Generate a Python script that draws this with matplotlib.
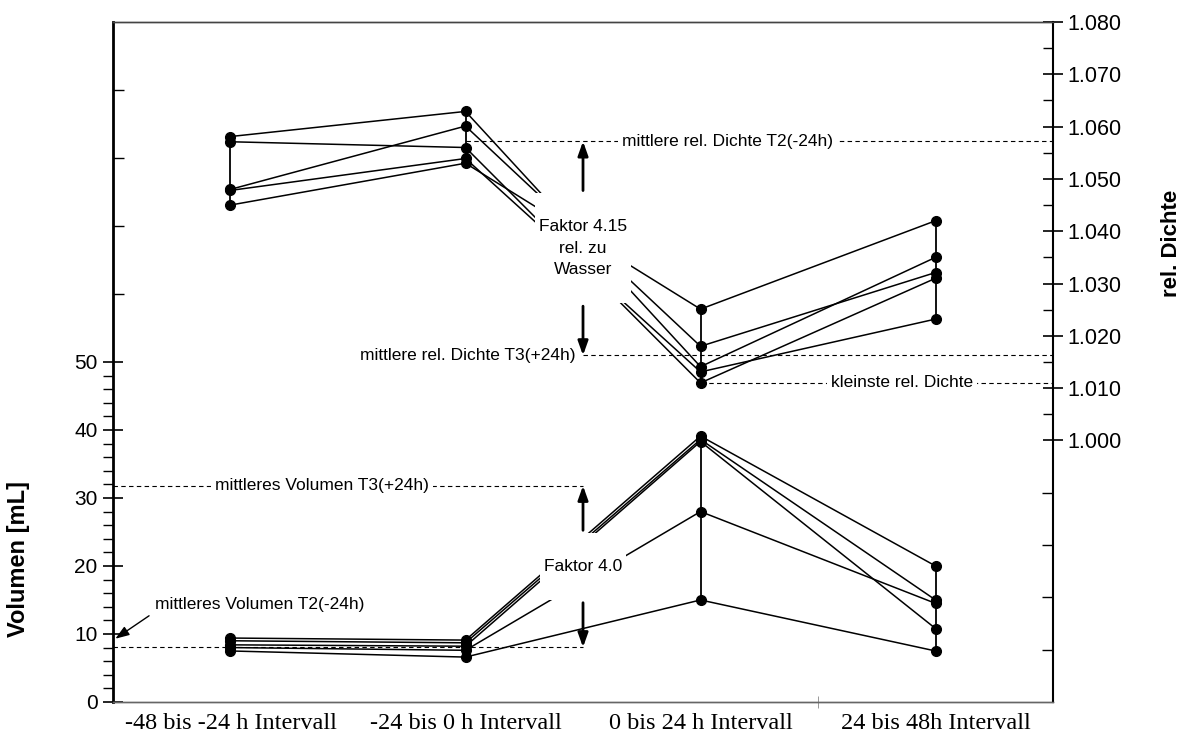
import numpy as np
import matplotlib
matplotlib.use('Agg')
import matplotlib.pyplot as plt

# Intervalle (x-Achse)
interval_labels = ['-48 bis -24 h Intervall', '-24 bis 0 h Intervall',
                   '0 bis 24 h Intervall', '24 bis 48h Intervall']
interval_x = [0.5, 1.5, 2.5, 3.5]

# Volumen [mL] je Proband und Intervall
volumen = [
    [9.4, 9.1, 39.1, 20.0],
    [9.0, 8.7, 38.6, 15.0],
    [8.4, 8.2, 38.3, 10.8],
    [8.0, 7.6, 28.0, 14.5],
    [7.5, 6.6, 15.0, 7.5],
]

# rel. Dichte je Proband und Intervall
dichte = [
    [1.0581, 1.0629, 1.0141, 1.0350],
    [1.0480, 1.0601, 1.0180, 1.0321],
    [1.0571, 1.0560, 1.0110, 1.0310],
    [1.0478, 1.0539, 1.0131, 1.0232],
    [1.0450, 1.0530, 1.0251, 1.0420],
]

vol = np.array(volumen)
dens = np.array(dichte)
vol_t2, vol_t3 = vol[:, 1].mean(), vol[:, 2].mean()
dens_t2, dens_t3 = dens[:, 1].mean(), dens[:, 2].mean()
dens_min = dens.min()

plt.rcParams['font.family'] = 'Liberation Sans'

fig = plt.figure(figsize=(11.88, 7.40), dpi=100)
ax = fig.add_axes([0.0951, 0.0514, 0.7913, 0.9189])
axr = ax.twinx()

note_size = 12.5
line_kw = dict(color='black', lw=1.1, marker='o', ms=7, zorder=2)
dash_kw = dict(colors='black', linestyles=(0, (4, 3)), lw=0.8, zorder=1)
box = dict(boxstyle='square,pad=0.25', fc='white', ec='none')
arrow = dict(arrowstyle='-|>,head_length=0.7,head_width=0.25', color='black',
             lw=2, mutation_scale=12, shrinkB=0)

# Volumen (linke Achse)
for row in volumen:
    ax.plot(interval_x, row, **line_kw)
ax.vlines(interval_x, vol.min(axis=0), vol.max(axis=0), color='black', lw=1.3, zorder=2)

ax.hlines([vol_t2, vol_t3], 0, 2.0, **dash_kw)
ax.text(0.889, vol_t3, 'mittleres Volumen T3(+24h)', ha='center', va='center',
        fontsize=note_size, bbox=box, zorder=3)
ax.annotate('mittleres Volumen T2(-24h)', xy=(0.01, 9.3), xytext=(0.18, 14.4),
            ha='left', va='center', fontsize=note_size,
            arrowprops=dict(arrowstyle='-|>,head_length=0.7,head_width=0.25',
                            color='black', lw=1, mutation_scale=12,
                            relpos=(0, 0), shrinkA=3, shrinkB=0))
vol_mid = (vol_t2 + vol_t3) / 2
for target in (vol_t3, vol_t2):
    ax.annotate('\nFaktor 4.0\n', xy=(2.0, target), xytext=(2.0, vol_mid),
                ha='center', va='center', fontsize=note_size, linespacing=1.55,
                bbox=box, arrowprops=arrow, zorder=3)

# rel. Dichte (rechte Achse)
for row in dichte:
    axr.plot(interval_x, row, **line_kw)
axr.vlines(interval_x, dens.min(axis=0), dens.max(axis=0), color='black', lw=1.3, zorder=2)

axr.hlines(dens_t2, 1.5, 4.0, **dash_kw)
axr.hlines(dens_t3, 2.0, 4.0, **dash_kw)
axr.hlines(dens_min, 2.5, 4.0, **dash_kw)
axr.text(2.615, dens_t2, 'mittlere rel. Dichte T2(-24h)', ha='center', va='center',
         fontsize=note_size, bbox=box, zorder=3)
axr.text(1.97, dens_t3, 'mittlere rel. Dichte T3(+24h)', ha='right', va='center',
         fontsize=note_size, zorder=3)
axr.text(3.357, dens_min, 'kleinste rel. Dichte', ha='center', va='center',
         fontsize=note_size, bbox=box, zorder=3)
dens_mid = (dens_t2 + dens_t3) / 2
for target in (dens_t2, dens_t3):
    axr.annotate('\nFaktor 4.15\nrel. zu\nWasser\n', xy=(2.0, target),
                 xytext=(2.0, dens_mid), ha='center', va='center',
                 fontsize=note_size, linespacing=1.55, bbox=box,
                 arrowprops=arrow, zorder=3)

# Achsen
ax.set_xlim(0, 4)
ax.set_ylim(0, 100)
axr.set_ylim(0.95, 1.08)

ax.set_xticks(interval_x)
ax.set_xticklabels(interval_labels, family='Liberation Serif', fontsize=17.5)
ax.set_xticks([3.0], minor=True)
ax.tick_params(axis='x', which='major', length=0, pad=8)
ax.tick_params(axis='x', which='minor', direction='inout', length=8, color='#888888')

ax.set_yticks(range(0, 51, 10))
ax.set_yticks([v for v in range(2, 50, 2) if v % 10], minor=True)
ax.tick_params(axis='y', which='major', direction='inout', length=14, width=1.2,
               labelsize=15, pad=4)
ax.tick_params(axis='y', which='minor', direction='out', length=7, width=1)
upper = ax.secondary_yaxis('left')
upper.set_yticks([60, 70, 80, 90])
upper.tick_params(direction='in', length=8, width=1, labelleft=False)
upper.spines['left'].set_visible(False)

axr.set_yticks(np.round(np.arange(1.0, 1.0801, 0.01), 3))
axr.set_yticks(np.round(np.arange(1.005, 1.08, 0.01), 3), minor=True)
axr.yaxis.set_major_formatter('{x:.3f}')
axr.tick_params(axis='y', which='major', direction='inout', length=14, width=1.2,
                labelsize=15.5, pad=3)
axr.tick_params(axis='y', which='minor', direction='in', length=7, width=1)
lower = axr.secondary_yaxis('right')
lower.set_yticks([0.96, 0.97, 0.98, 0.99])
lower.tick_params(direction='in', length=8, width=1, labelright=False)
lower.spines['right'].set_visible(False)

for a in (ax, axr):
    a.spines['top'].set_linewidth(1)
    a.spines['top'].set_color('#444444')
    a.spines['bottom'].set_linewidth(1)
    a.spines['bottom'].set_color('#666666')
ax.spines['left'].set_linewidth(2)
ax.spines['right'].set_visible(False)
axr.spines['left'].set_visible(False)
axr.spines['right'].set_linewidth(1.5)

ax.set_ylabel('Volumen [mL]', fontsize=17, fontweight='bold')
ax.yaxis.set_label_coords(-0.088, 0.21)
axr.set_ylabel('rel. Dichte', fontsize=16, fontweight='bold', rotation=90)
axr.yaxis.set_label_coords(1.115, 0.675)

fig.savefig('out.png', dpi=100)
